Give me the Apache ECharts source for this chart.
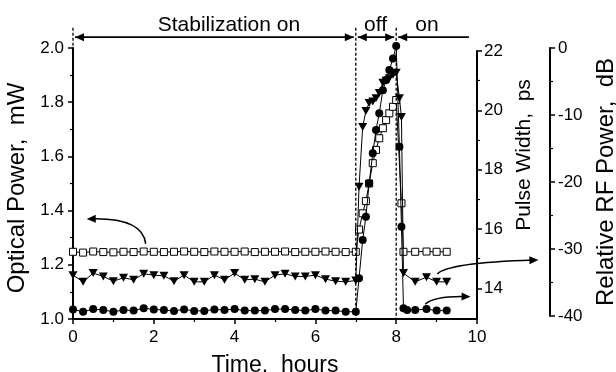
<!DOCTYPE html>
<html><head><meta charset="utf-8">
<script src="https://cdn.jsdelivr.net/npm/echarts@6/dist/echarts.min.js"></script>
<style>html,body{margin:0;padding:0;background:#fff}#c{width:616px;height:372px}</style>
</head><body><div id="c"></div>
<script>
// ---- data ----
const hours = [0,0.25,0.5,0.75,1,1.25,1.5,1.75,2,2.25,2.5,2.75,3,3.25,3.5,3.75,4,4.25,4.5,4.75,5,5.25,5.5,5.75,6,6.25,6.5,6.75,7,
  7.08,7.17,7.25,7.33,7.42,7.5,7.58,7.67,7.75,7.83,7.92,8,
  8.08,8.13,8.18,8.27,8.47,8.75,9,9.25];
// squares: optical power, mW (left axis)
const opticalPower = [1.248,1.245,1.249,1.247,1.246,1.248,1.247,1.249,1.248,1.247,1.248,1.249,1.248,1.247,1.249,1.248,1.248,1.249,1.247,1.248,1.248,1.249,1.247,1.248,1.248,1.249,1.248,1.247,1.248,
  1.33,1.39,1.435,1.50,1.575,1.624,1.667,1.704,1.734,1.759,1.783,1.808,
  null,1.427,1.248,null,1.248,1.249,1.248,1.248];
// circles: pulse width, ps (first right axis)
const pulseWidth = [13.29,13.21,13.30,13.27,13.21,13.27,13.25,13.33,13.29,13.27,13.24,13.29,13.24,13.24,13.29,13.27,13.30,13.25,13.25,13.25,13.30,13.30,13.27,13.25,13.30,13.25,13.25,13.21,13.21,
  14.34,15.63,16.41,17.54,18.55,19.34,19.90,20.68,21.02,21.36,21.75,22.17,
  18.77,16.08,13.33,13.27,13.27,13.30,13.25,13.25];
// triangles: relative RF power, dB (second right axis)
const rfPower = [-33.9,-34.9,-33.6,-34.1,-34.8,-34.3,-34.6,-33.7,-33.9,-34.0,-34.8,-33.9,-34.9,-34.9,-33.9,-34.6,-33.6,-34.6,-34.5,-34.9,-33.9,-33.7,-34.1,-34.1,-33.9,-34.5,-34.8,-34.9,-34.7,
  -20.7,-11.8,-9.4,-8.2,-8.0,-7.5,-6.7,-5.2,-4.9,-4.5,-4.0,-3.7,
  -7.5,-10.3,-33.6,null,-34.9,-34.2,-34.9,-34.9];

const timeTicks = [0,2,4,6,8,10];
const opticalTicks = [1.0,1.2,1.4,1.6,1.8,2.0];
const pulseTicks = [14,16,18,20,22];
const pulseMinorTicks = [15,17,19,21];
const rfTicks = [-40,-30,-20,-10,0];
const pulseRange = [13,22];

// phase annotation (hours)
const phaseBounds = [0,7,8];
const phaseEnd = 9.8;
const phaseLabels = ['Stabilization on','off','on'];
const phaseLabelHours = [3.86,7.49,8.76];

// ---- chart ----
const FONT = 'Liberation Sans';
const chart = echarts.init(document.getElementById('c'), null, {renderer:'canvas'});
const step = a => +(a[1]-a[0]).toFixed(6);
const axisLine = {show:true, onZero:false, lineStyle:{color:'#000', width:2}};
const tick = {show:true, length:5, lineStyle:{color:'#000', width:1.5}};
const minor = {show:true, splitNumber:2, length:3, lineStyle:{color:'#000', width:1.2}};
const lbl = {color:'#000', fontSize:17, fontFamily:FONT};
const nameStyle = {color:'#000', fontSize:21, fontFamily:FONT};
const G = {left:73, right:139, containLabel:false, outerBoundsMode:'none'};
const grids = [
  {...G, top:48, bottom:53},
  {...G, top:51, bottom:54},
  {...G, top:48, bottom:56}
];
const hiddenX = i => ({type:'value', gridIndex:i, min:timeTicks[0], max:timeTicks[timeTicks.length-1], show:false});

const option = {
  animation:false,
  backgroundColor:'#fff',
  grid: grids,
  xAxis: [
    {type:'value', gridIndex:0, min:timeTicks[0], max:timeTicks[timeTicks.length-1], interval:step(timeTicks),
     axisLine, axisTick:tick, minorTick:minor, splitLine:{show:false},
     axisLabel:{...lbl, margin:10},
     name:'Time,  hours', nameLocation:'middle', nameGap:35, nameTextStyle:{...nameStyle, fontSize:23}},
    hiddenX(1), hiddenX(2)
  ],
  yAxis: [
    {type:'value', gridIndex:0, position:'left', min:opticalTicks[0], max:opticalTicks[opticalTicks.length-1], interval:step(opticalTicks),
     axisLine, axisTick:tick, minorTick:minor, splitLine:{show:false},
     axisLabel:{...lbl, margin:9, formatter:v=>v.toFixed(1)},
     name:'Optical Power,  mW', nameLocation:'middle', nameGap:39, nameRotate:90,
     nameTextStyle:{...nameStyle, fontSize:24, padding:[0,9,0,0]}},
    {type:'value', gridIndex:1, position:'right', min:pulseRange[0], max:pulseRange[1],
     axisLine, axisTick:{...tick, customValues:pulseTicks}, splitLine:{show:false},
     axisLabel:{...lbl, margin:7, customValues:pulseTicks},
     name:'Pulse Width,  ps', nameLocation:'middle', nameGap:34, nameRotate:90,
     nameTextStyle:{...nameStyle, padding:[0,0,0,59]}},
    {type:'value', gridIndex:1, position:'right', min:pulseRange[0], max:pulseRange[1],
     axisLine:{show:false, onZero:false}, axisTick:{show:true, length:3, lineStyle:{color:'#000', width:1.2}, customValues:pulseMinorTicks},
     axisLabel:{show:false}, splitLine:{show:false}},
    {type:'value', gridIndex:2, position:'right', offset:73, min:rfTicks[0], max:rfTicks[rfTicks.length-1], interval:step(rfTicks),
     axisLine, axisTick:tick, minorTick:minor, splitLine:{show:false},
     axisLabel:{...lbl, margin:8},
     name:'Relative RF Power,  dB', nameLocation:'middle', nameGap:44, nameRotate:90,
     nameTextStyle:{...nameStyle, fontSize:24}}
  ],
  series: [
    {name:'Optical power', type:'line', xAxisIndex:0, yAxisIndex:0,
     data: hours.map((h,i)=>[h, opticalPower[i]]), connectNulls:true, clip:false,
     symbol:'rect', symbolSize:7, showAllSymbol:true,
     itemStyle:{color:'#fff', borderColor:'#000', borderWidth:1},
     lineStyle:{color:'#000', width:1}, z:3},
    {name:'Pulse width', type:'line', xAxisIndex:1, yAxisIndex:1,
     data: hours.map((h,i)=>[h, pulseWidth[i]]), connectNulls:true, clip:false,
     symbol:'circle', symbolSize:8, showAllSymbol:true,
     itemStyle:{color:'#000'}, lineStyle:{color:'#000', width:1}, z:4},
    {name:'RF power', type:'line', xAxisIndex:2, yAxisIndex:3,
     data: hours.map((h,i)=>[h, rfPower[i]]), connectNulls:true, clip:false,
     symbol:'triangle', symbolRotate:180, symbolSize:[9,8], showAllSymbol:true,
     itemStyle:{color:'#000'}, lineStyle:{color:'#000', width:1}, z:4}
  ]
};
chart.setOption(option);

// ---- annotations positioned through the optical-power grid's scales ----
const P = (t,v) => chart.convertToPixel({gridIndex:0}, [t,v]);
function head(tip, ang){
  const L=9, W=4;
  const bx = tip[0]-L*Math.cos(ang), by = tip[1]-L*Math.sin(ang);
  const px = -Math.sin(ang)*W, py = Math.cos(ang)*W;
  return {type:'polygon', z:100, shape:{points:[tip,[bx+px,by+py],[bx-px,by-py]]}, style:{fill:'#000'}};
}
const g = [];
const dash = {stroke:'#000', lineWidth:1.3, lineDash:[3,2]};
const topV = 2.075, arrowV = 2.04, textV = 2.085;
g.push({type:'line', z:90, shape:{x1:P(phaseBounds[0],topV)[0], y1:P(0,topV)[1], x2:P(phaseBounds[0],2)[0], y2:P(0,2)[1]}, style:dash});
[phaseBounds[1], phaseBounds[2]].forEach(t=>{
  g.push({type:'line', z:90, shape:{x1:P(t,topV)[0], y1:P(t,topV)[1], x2:P(t,1)[0], y2:P(t,1)[1]}, style:dash});
});
const ay = P(0,arrowV)[1];
function hArrow(t0, t1, leftHead, rightHead){
  const x0 = P(t0,arrowV)[0] + 2, x1 = P(t1,arrowV)[0] - (rightHead ? 2 : 0);
  g.push({type:'line', z:95, shape:{x1:x0, y1:ay, x2:x1, y2:ay}, style:{stroke:'#000', lineWidth:1.6}});
  if (leftHead) g.push(head([x0,ay], Math.PI));
  if (rightHead) g.push(head([x1,ay], 0));
}
hArrow(phaseBounds[0], phaseBounds[1], true, true);
hArrow(phaseBounds[1], phaseBounds[2], true, true);
hArrow(phaseBounds[2], phaseEnd, true, false);
phaseLabels.forEach((s,i)=>{
  const p = P(phaseLabelHours[i], textV);
  g.push({type:'text', z:100, style:{text:s, x:p[0], y:p[1], fontSize:21, fontFamily:FONT, fill:'#000', align:'center', verticalAlign:'middle'}});
});
const pointers = [
  [[1.80,1.277],[1.73,1.373],[0.34,1.369]],
  [[9.02,1.166],[9.27,1.207],[11.52,1.218]],
  [[8.72,1.055],[8.97,1.085],[9.84,1.082]]
];
pointers.forEach(c=>{
  const s=P(...c[0]), cp=P(...c[1]), e=P(...c[2]);
  const ang = Math.atan2(e[1]-cp[1], e[0]-cp[0]);
  const ex = e[0]-5*Math.cos(ang), ey = e[1]-5*Math.sin(ang);
  g.push({type:'bezierCurve', z:95, shape:{x1:s[0], y1:s[1], x2:ex, y2:ey, cpx1:cp[0], cpy1:cp[1]}, style:{stroke:'#000', lineWidth:1.5, fill:null}});
  g.push(head(e, ang));
});
chart.setOption({graphic: g});
</script>
</body></html>
